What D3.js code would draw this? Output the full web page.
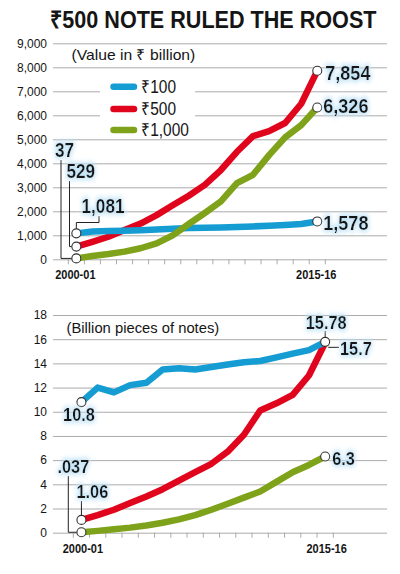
<!DOCTYPE html>
<html>
<head>
<meta charset="utf-8">
<script src="https://cdn.jsdelivr.net/npm/d3@7/dist/d3.min.js"></script>
<style>
  html, body { margin: 0; padding: 0; background: #fff; }
  svg { display: block; }
</style>
</head>
<body>
<svg id="chart" width="400" height="574"></svg>
<script>
// ---------- DATA ----------
const years = ["2000-01","2001-02","2002-03","2003-04","2004-05","2005-06","2006-07","2007-08",
               "2008-09","2009-10","2010-11","2011-12","2012-13","2013-14","2014-15","2015-16"];
// Value in ₹ billion
const value100  = [1081, 1160, 1180, 1190, 1210, 1240, 1270, 1300, 1310, 1330, 1350, 1370, 1400, 1430, 1470, 1578];
const value500  = [529, 730, 940, 1220, 1490, 1840, 2250, 2650, 3100, 3720, 4480, 5130, 5340, 5680, 6480, 7854];
const value1000 = [37, 140, 220, 320, 460, 660, 1000, 1470, 1930, 2410, 3170, 3520, 4340, 5080, 5590, 6326];
// Billion pieces of notes
const pieces100  = [10.8, 12.0, 11.6, 12.2, 12.4, 13.5, 13.6, 13.5, 13.7, 13.9, 14.1, 14.2, 14.5, 14.8, 15.1, 15.78];
const pieces500  = [1.06, 1.46, 1.9, 2.45, 3.0, 3.6, 4.3, 5.0, 5.7, 6.7, 8.1, 10.1, 10.7, 11.4, 13.0, 15.7];
const pieces1000 = [0.037, 0.15, 0.28, 0.42, 0.6, 0.82, 1.1, 1.45, 1.9, 2.4, 2.9, 3.4, 4.2, 5.0, 5.6, 6.3];

const valueTicks  = [0, 1000, 2000, 3000, 4000, 5000, 6000, 7000, 8000, 9000];
const piecesTicks = [0, 2, 4, 6, 8, 10, 12, 14, 16, 18];
const xLabels = ["2000-01", "2015-16"];
const seriesNames = ["₹100", "₹500", "₹1,000"];

const C = { b: "#159dd3", r: "#e0051c", g: "#7ea31a" };
const SANS = "'Liberation Sans', Arial, sans-serif";
const INK = "#151515";
const GRID = "#ababab";

const svg = d3.select("#chart");

// glow filter for labels
const defs = svg.append("defs");
const f = defs.append("filter").attr("id", "glow")
  .attr("x", "-40%").attr("y", "-50%").attr("width", "180%").attr("height", "200%");
f.append("feMorphology").attr("in", "SourceAlpha").attr("operator", "dilate").attr("radius", 1.5).attr("result", "d");
f.append("feGaussianBlur").attr("in", "d").attr("stdDeviation", 2.5).attr("result", "bl");
f.append("feFlood").attr("flood-color", "#c4e4f6").attr("result", "fc");
f.append("feComposite").attr("in", "fc").attr("in2", "bl").attr("operator", "in").attr("result", "gl");
const fm = f.append("feMerge");
fm.append("feMergeNode").attr("in", "gl");
fm.append("feMergeNode").attr("in", "SourceGraphic");

// text helper: horizontally condensed text (sx scale, or fitted to a width)
function txt(g, x, y, t, o) {
  const el = g.append("text")
    .attr("text-anchor", o.anchor || "start")
    .style("font-family", SANS).style("font-weight", o.bold ? "bold" : "normal")
    .style("font-size", o.size + "px").attr("fill", INK).text(t);
  if (o.glow) el.attr("filter", "url(#glow)");
  let sx = o.sx || 1;
  if (o.width) sx = o.width / el.node().getComputedTextLength();
  el.attr("transform", `translate(${x},${y}) scale(${sx},1)`);
  return el;
}

// Title
txt(svg, 50, 27.5, "₹500 NOTE RULED THE ROOST", { size: 24, bold: true, width: 327 });

function panel(cfg) {
  const g = svg.append("g");
  const y = d3.scaleLinear().domain([cfg.ticks[0], cfg.ticks[cfg.ticks.length - 1]]).range([cfg.y0, cfg.y1]);
  const xb = d3.scaleBand().domain(years).range([cfg.x0, cfg.x1]).padding(0);
  const xc = d => xb(d) + xb.bandwidth() / 2;

  // gridlines + y labels
  const ax = d3.axisLeft(y).tickValues(cfg.ticks).tickSize(387 - 53).tickPadding(6).tickFormat(cfg.fmt);
  const ag = g.append("g").attr("transform", "translate(387,0)").call(ax);
  ag.select(".domain").remove();
  ag.selectAll(".tick line").attr("stroke", GRID).attr("stroke-width", 1);
  ag.selectAll(".tick text").attr("fill", INK).style("font-family", SANS).style("font-size", "12px");

  // x tick marks at band edges
  const edges = years.map(d => xb(d)).concat([cfg.x1]);
  g.selectAll(".xt").data(edges).join("line")
    .attr("x1", d => d).attr("x2", d => d)
    .attr("y1", cfg.y0).attr("y2", cfg.y0 + 5)
    .attr("stroke", GRID).attr("stroke-width", 1);

  // x labels (first and last)
  xLabels.forEach(d => txt(g, xc(d) + cfg.xlDx, cfg.y0 + 20, d, { size: 12.5, bold: true, anchor: "middle", sx: 0.88 }));

  if (cfg.legend) cfg.legend(g);

  const line = d3.line().x((d, i) => xc(years[i])).y(d => y(d));
  [[cfg.s500, C.r], [cfg.s100, C.b], [cfg.s1000, C.g]].forEach(([s, c]) => {
    g.append("path").datum(s).attr("d", line)
      .attr("fill", "none").attr("stroke", c).attr("stroke-width", 6.5)
      .attr("stroke-linejoin", "round");
  });

  return { g, y, xc };
}

function circle(g, x, y) {
  g.append("circle").attr("cx", x).attr("cy", y).attr("r", 4.5)
    .attr("fill", "#fff").attr("stroke", "#333").attr("stroke-width", 1.1);
}
function leader(g, d) {
  g.append("path").attr("d", d).attr("fill", "none").attr("stroke", "#222").attr("stroke-width", 1);
}
function label(g, x, y, t, size, anchor) {
  txt(g, x, y, t, { size, bold: true, glow: true, anchor, sx: 0.86 });
}

// ---------- TOP PANEL ----------
const topP = panel({
  ticks: valueTicks, y0: 259.3, y1: 43.3, x0: 68.3, x1: 325.3,
  fmt: d3.format(","), s100: value100, s500: value500, s1000: value1000, xlDx: -1,
  legend: (g) => {
    g.append("rect").attr("x", 100).attr("y", 72).attr("width", 95).attr("height", 64).attr("fill", "#fff");
    const ly = [86.7, 109, 130];
    const cols = [C.b, C.r, C.g];
    seriesNames.forEach((n, i) => {
      g.append("line").attr("x1", 113.5).attr("x2", 134).attr("y1", ly[i]).attr("y2", ly[i])
        .attr("stroke", cols[i]).attr("stroke-width", 6.5).attr("stroke-linecap", "round");
      txt(g, 141, ly[i] + 6.3, n, { size: 18, sx: 0.86 });
    });
  }
});
topP.g.append("rect").attr("x", 68).attr("y", 47).attr("width", 130).attr("height", 17).attr("fill", "#fff");
txt(topP.g, 71.5, 60, "(Value in ₹ billion)", { size: 15, width: 124 });
{
  const g = topP.g, y = topP.y, x0 = topP.xc(years[0]), x1 = topP.xc(years[15]);
  leader(g, `M61,160V${y(value1000[0])}H${x0 - 4.5}`);
  leader(g, `M69.5,181V${y(value500[0])}H${x0 - 4.5}`);
  leader(g, `M99,216V222.5H${x0}V${y(value100[0]) - 4.5}`);
  [value100, value500, value1000].forEach(s => { circle(g, x0, y(s[0])); circle(g, x1, y(s[15])); });
  label(g, 64.5, 157, d3.format(",")(value1000[0]), 20, "middle");
  label(g, 66.5, 178, d3.format(",")(value500[0]), 20);
  label(g, 81.5, 213, d3.format(",")(value100[0]), 20);
  label(g, x1 + 8, y(value500[15]) + 9.5, d3.format(",")(value500[15]), 21);
  label(g, x1 + 6, y(value1000[15]) + 6, d3.format(",")(value1000[15]), 21);
  label(g, x1 + 6, y(value100[15]) + 8.5, d3.format(",")(value100[15]), 21);
}

// ---------- BOTTOM PANEL ----------
const botP = panel({
  ticks: piecesTicks, y0: 532.7, y1: 315, x0: 73.3, x1: 333.3,
  fmt: d3.format("d"), s100: pieces100, s500: pieces500, s1000: pieces1000, xlDx: 1.5
});
botP.g.append("rect").attr("x", 64).attr("y", 318).attr("width", 160).attr("height", 19).attr("fill", "#fff");
txt(botP.g, 66.5, 333, "(Billion pieces of notes)", { size: 15, width: 153 });
{
  const g = botP.g, y = botP.y, x0 = botP.xc(years[0]), x1 = botP.xc(years[15]);
  leader(g, `M68.3,476V${y(pieces1000[0])}H${x0 - 4.5}`);
  leader(g, `M${x0},501V${y(pieces500[0]) - 4.5}`);
  leader(g, `M${x1},331V${y(pieces100[15]) - 4.5}`);
  leader(g, `M${x1 + 3},${y(pieces500[15]) + 4.5}H339`);
  circle(g, x0, y(pieces100[0]));
  circle(g, x0, y(pieces500[0]));
  circle(g, x0, y(pieces1000[0]));
  circle(g, x1, y(pieces100[15]));
  circle(g, x1, y(pieces1000[15]));
  label(g, 79, 421, String(pieces100[0]), 19, "middle");
  label(g, 57.5, 473, ".037", 19);
  label(g, 76.5, 498, String(pieces500[0]), 19);
  label(g, x1 + 1, 328.5, String(pieces100[15]), 19, "middle");
  label(g, 340, 355, String(pieces500[15]), 19);
  label(g, x1 + 7, 465, String(pieces1000[15]), 19);
}
</script>
</body>
</html>
